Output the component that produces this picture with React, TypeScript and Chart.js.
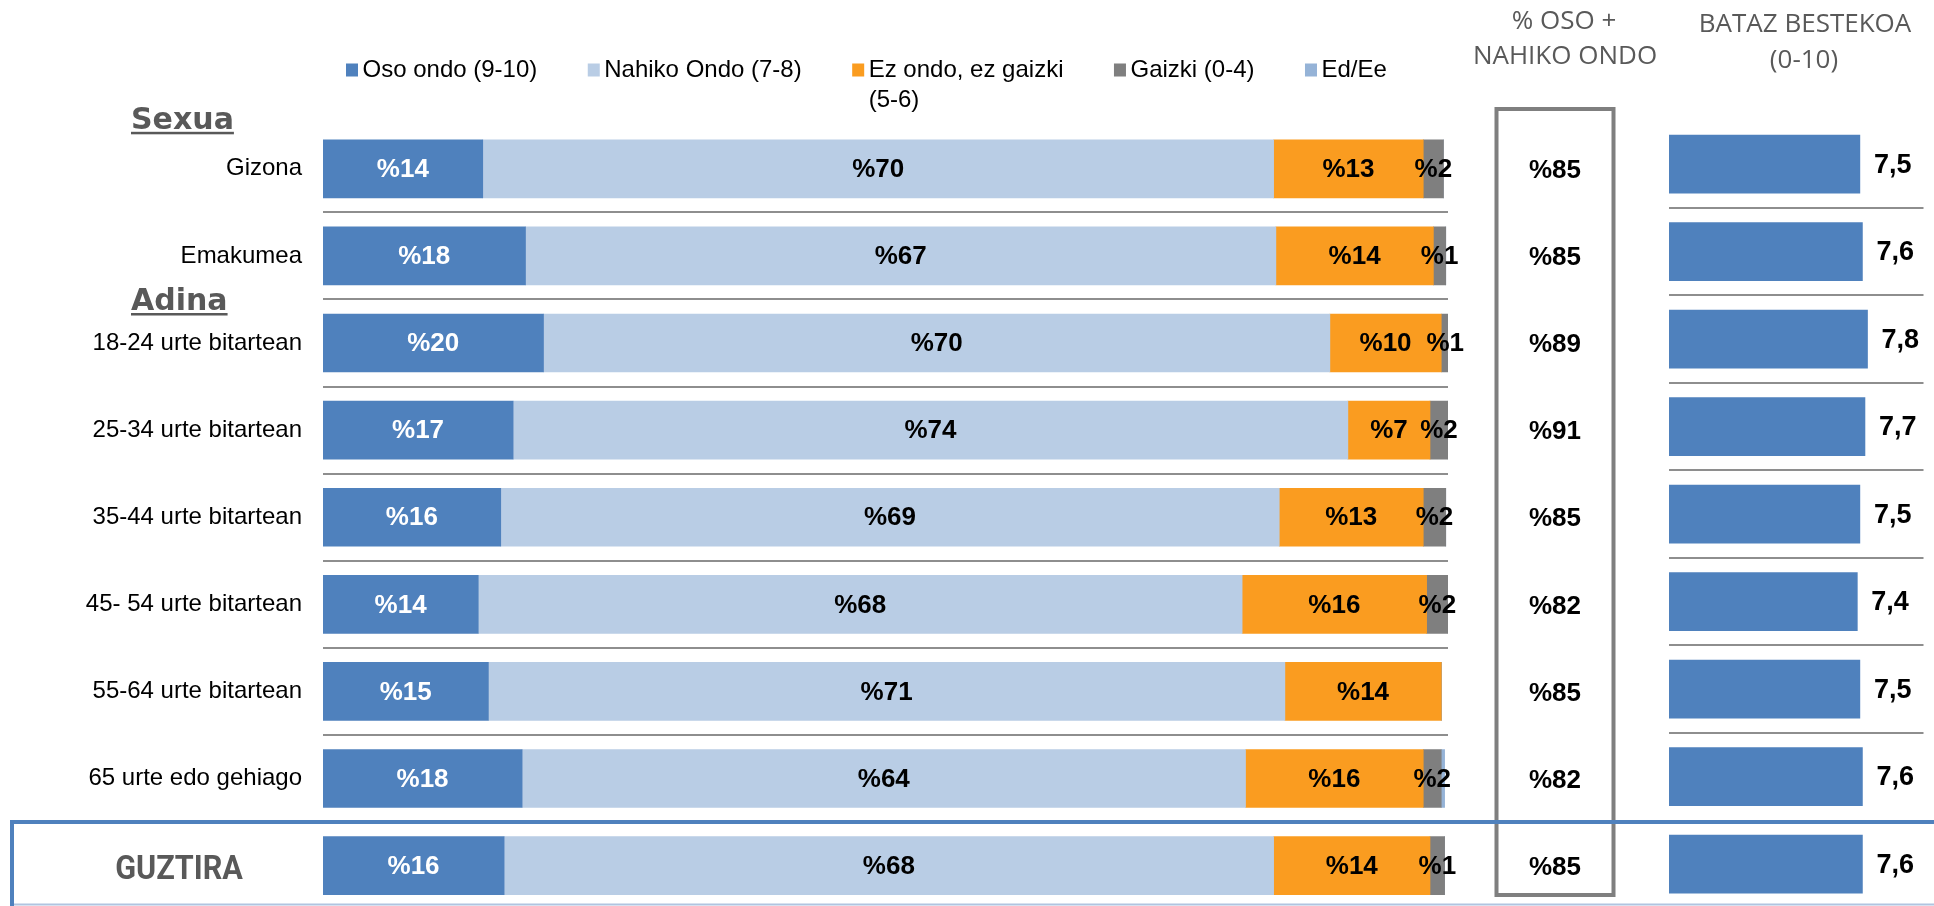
import React, { useEffect, useRef } from 'react';
import { Chart, registerables } from 'chart.js';

Chart.register(...registerables);

// ---------- DATA ----------
const categories = [
  'Gizona',
  'Emakumea',
  '18-24 urte bitartean',
  '25-34 urte bitartean',
  '35-44 urte bitartean',
  '45- 54 urte bitartean',
  '55-64 urte bitartean',
  '65 urte edo gehiago',
  'GUZTIRA',
];
const seriesLabels = ['Oso ondo (9-10)', 'Nahiko Ondo (7-8)', 'Ez ondo, ez gaizki (5-6)', 'Gaizki (0-4)', 'Ed/Ee'];
const osoOndo = [14.2, 18.0, 19.6, 16.9, 15.8, 13.8, 14.7, 17.7, 16.1];
const nahikoOndo = [70.3, 66.7, 69.9, 74.2, 69.2, 67.9, 70.8, 64.3, 68.4];
const ezOndoEzGaizki = [13.3, 14.0, 9.9, 7.3, 12.8, 16.4, 13.9, 15.8, 13.9];
const gaizki = [1.8, 1.1, 0.7, 1.6, 2.0, 1.9, 0, 1.6, 1.3];
const edEe = [0, 0, 0, 0, 0, 0, 0, 0.3, 0];
const osoNahikoTotal = [85, 85, 89, 91, 85, 82, 85, 82, 85];
const batazBestekoa = [7.5, 7.6, 7.8, 7.7, 7.5, 7.4, 7.5, 7.6, 7.6];
const groupHeadings = ['Sexua', 'Adina'];
const groupStartIndex = [0, 2];
const totalHeader = ['% OSO +', 'NAHIKO ONDO'];
const meanHeader = ['BATAZ BESTEKOA', '(0-10)'];

// ---------- STYLE ----------
const seriesColors = ['#4F81BD', '#B9CDE5', '#FA9C20', '#7F7F7F', '#95B3D7'];
const SANS = '"Liberation Sans", Arial, sans-serif';
const GRAY_TEXT = '#595959';
const SEP_COLOR = '#8E8E8E';
const headingBaselineShift = [-40, -33];
const W = 1934;
const H = 920;

const sepColor = (c: any) =>
  typeof c.index === 'number' && c.index >= 1 && c.index <= categories.length - 2 ? SEP_COLOR : 'rgba(0,0,0,0)';

const barLabelsPlugin = {
  id: 'barLabels',
  afterDatasetsDraw(chart: any) {
    const ctx = chart.ctx;
    ctx.save();
    ctx.font = `bold 26px ${SANS}`;
    ctx.textAlign = 'center';
    ctx.textBaseline = 'middle';
    chart.data.datasets.forEach((ds: any, di: number) => {
      if (di === 4) return;
      const meta = chart.getDatasetMeta(di);
      meta.data.forEach((el: any, i: number) => {
        const v = ds.data[i];
        if (!v) return;
        const p = el.getProps(['x', 'base', 'y'], true);
        ctx.fillStyle = di === 0 ? '#FFFFFF' : '#000000';
        ctx.fillText('%' + Math.round(v), (p.x + p.base) / 2, p.y + 1);
      });
    });
    ctx.restore();
  },
};

const wrapText = (ctx: any, text: string, maxW: number) => {
  const words = text.split(' ');
  const lines: string[] = [];
  let cur = '';
  words.forEach((w) => {
    const t = cur ? cur + ' ' + w : w;
    if (ctx.measureText(t).width > maxW && cur) {
      lines.push(cur);
      cur = w;
    } else cur = t;
  });
  if (cur) lines.push(cur);
  return lines;
};

const decorPlugin = {
  id: 'decor',
  afterDraw(chart: any) {
    const ctx = chart.ctx;
    const yScale = chart.scales.y;
    ctx.save();

    // Legend
    ctx.font = `24px ${SANS}`;
    ctx.textAlign = 'left';
    ctx.textBaseline = 'middle';
    let lx = 346;
    const ly = 70;
    chart.data.datasets.forEach((ds: any) => {
      ctx.fillStyle = ds.backgroundColor;
      ctx.fillRect(lx, ly - 6.5, 12, 13);
      const lines = wrapText(ctx, ds.label, 200);
      ctx.fillStyle = '#000';
      let maxW = 0;
      lines.forEach((ln, k) => {
        ctx.fillText(ln, lx + 16.5, ly + k * 30);
        maxW = Math.max(maxW, ctx.measureText(ln).width);
      });
      lx += 16.5 + maxW + 50.5;
    });

    // Group headings
    ctx.font = `bold 30px "DejaVu Sans", sans-serif`;
    ctx.textBaseline = 'alphabetic';
    ctx.fillStyle = GRAY_TEXT;
    groupHeadings.forEach((h, k) => {
      const by = yScale.getPixelForValue(groupStartIndex[k]) + headingBaselineShift[k];
      ctx.fillText(h, 131, by);
      const w = ctx.measureText(h).width;
      ctx.fillRect(131, by + 3, w, 2.5);
    });

    // GUZTIRA label
    const last = categories.length - 1;
    ctx.save();
    ctx.font = `bold 34px Roboto, sans-serif`;
    ctx.textAlign = 'center';
    ctx.textBaseline = 'alphabetic';
    ctx.translate(179, yScale.getPixelForValue(last) + 13);
    ctx.scale(0.9, 1);
    ctx.fillText(categories[last], 0, 0);
    ctx.restore();

    // Headers of right columns
    ctx.font = `26px "Open Sans", sans-serif`;
    ctx.textAlign = 'center';
    ctx.textBaseline = 'middle';
    ctx.fillStyle = GRAY_TEXT;
    ctx.fillText(totalHeader[0], 1564, 22);
    ctx.fillText(totalHeader[1], 1565, 57);
    ctx.fillText(meanHeader[0], 1805, 25);
    ctx.fillText(meanHeader[1], 1804, 61);

    // Total box
    ctx.strokeStyle = '#7F7F7F';
    ctx.lineWidth = 4;
    ctx.strokeRect(1496.5, 109, 117, 786);

    // Total values
    ctx.font = `bold 26px ${SANS}`;
    ctx.fillStyle = '#000';
    osoNahikoTotal.forEach((v, i) => {
      ctx.fillText('%' + v, 1555, yScale.getPixelForValue(i) + 2);
    });

    // Blue total frame
    ctx.strokeStyle = '#4F81BD';
    ctx.lineWidth = 4;
    ctx.beginPath();
    ctx.moveTo(W + 5, 822);
    ctx.lineTo(12, 822);
    ctx.lineTo(12, 910);
    ctx.stroke();
    ctx.strokeStyle = '#B0C4E0';
    ctx.lineWidth = 2;
    ctx.beginPath();
    ctx.moveTo(14, 904.5);
    ctx.lineTo(W, 904.5);
    ctx.stroke();

    ctx.restore();
  },
};

const meanLabelsPlugin = {
  id: 'meanLabels',
  afterDatasetsDraw(chart: any) {
    const ctx = chart.ctx;
    ctx.save();
    ctx.font = `bold 27px ${SANS}`;
    ctx.textAlign = 'left';
    ctx.textBaseline = 'middle';
    ctx.fillStyle = '#000';
    const meta = chart.getDatasetMeta(0);
    meta.data.forEach((el: any, i: number) => {
      const p = el.getProps(['x', 'y'], true);
      const v = chart.data.datasets[0].data[i];
      ctx.fillText(v.toFixed(1).replace('.', ','), p.x + 14, p.y + 1);
    });
    ctx.restore();
  },
};

const App = () => {
  const mainRef = useRef<HTMLCanvasElement>(null);
  const meanRef = useRef<HTMLCanvasElement>(null);

  useEffect(() => {
    if (!mainRef.current || !meanRef.current) return;
    const seriesData = [osoOndo, nahikoOndo, ezOndoEzGaizki, gaizki, edEe];

    const main = new Chart(mainRef.current, {
      type: 'bar',
      data: {
        labels: categories,
        datasets: seriesLabels.map((label, k) => ({
          label,
          data: seriesData[k],
          backgroundColor: seriesColors[k],
          borderWidth: 0,
          barThickness: 58,
        })),
      },
      options: {
        indexAxis: 'y',
        responsive: false,
        animation: false,
        layout: { padding: { left: 0, right: 486, top: 125.25, bottom: 10.8 } },
        plugins: {
          legend: { display: false },
          tooltip: { enabled: false },
          title: { display: false },
        },
        scales: {
          x: { stacked: true, min: 0, max: 100, display: false },
          y: {
            stacked: true,
            grid: { drawTicks: false, offset: true, lineWidth: 2, color: sepColor },
            border: { display: false },
            ticks: {
              padding: 21,
              autoSkip: false,
              color: '#000',
              font: { size: 24, family: SANS },
              callback: (_v: any, i: number) => (i === categories.length - 1 ? '' : categories[i]),
            },
            afterFit: (s: any) => {
              s.width = 323;
              s.paddingTop = 0;
              s.paddingBottom = 0;
            },
          },
        },
      } as any,
      plugins: [barLabelsPlugin, decorPlugin],
    });

    const mean = new Chart(meanRef.current, {
      type: 'bar',
      data: {
        labels: categories,
        datasets: [
          {
            label: 'Bataz bestekoa',
            data: batazBestekoa,
            backgroundColor: '#4F81BD',
            borderWidth: 0,
            barThickness: 58,
          },
        ],
      },
      options: {
        indexAxis: 'y',
        responsive: false,
        animation: false,
        layout: { padding: { left: 1669, right: 10.5, top: 120.45, bottom: 12.05 } },
        plugins: { legend: { display: false }, tooltip: { enabled: false } },
        scales: {
          x: { min: 0, max: 10, display: false },
          y: {
            ticks: { display: false },
            grid: { drawTicks: false, offset: true, lineWidth: 2, color: sepColor },
            border: { display: false },
            afterFit: (s: any) => {
              s.width = 0;
              s.paddingTop = 0;
              s.paddingBottom = 0;
            },
          },
        },
      } as any,
      plugins: [meanLabelsPlugin],
    });

    return () => {
      main.destroy();
      mean.destroy();
    };
  }, []);

  return (
    <div style={{ position: 'relative', width: W, height: 906, overflow: 'hidden', background: '#fff' }}>
      <style>{'html,body{margin:0;padding:0;overflow:hidden;background:#fff;}'}</style>
      <canvas ref={mainRef} width={W} height={H} style={{ position: 'absolute', left: 0, top: 0 }} />
      <canvas ref={meanRef} width={W} height={H} style={{ position: 'absolute', left: 0, top: 0 }} />
    </div>
  );
};

export default App;
